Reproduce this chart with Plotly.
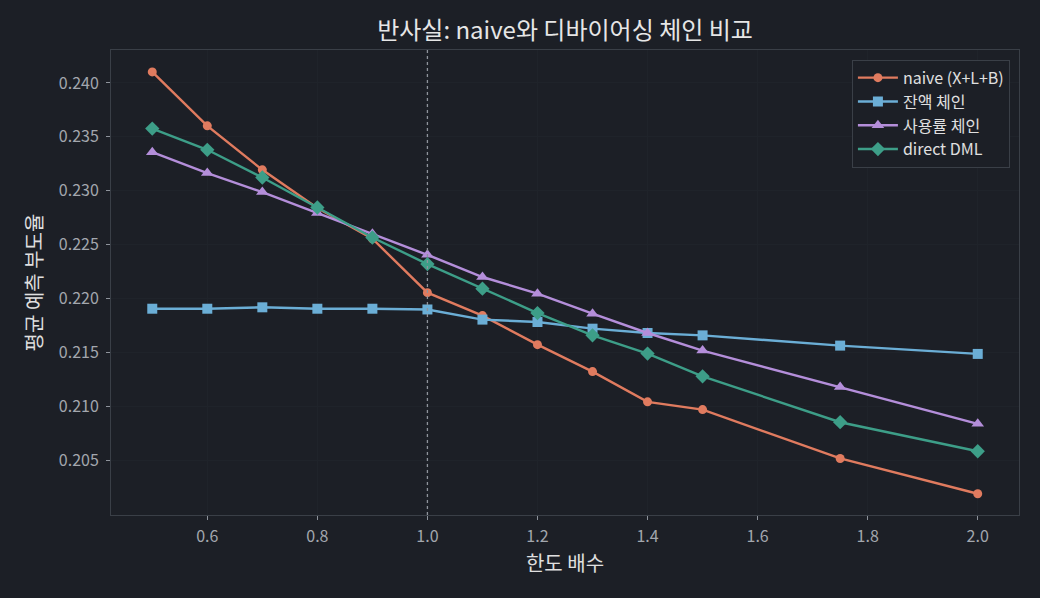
import plotly.graph_objects as go

x_vals = [0.5, 0.6, 0.7, 0.8, 0.9, 1.0, 1.1, 1.2, 1.3, 1.4, 1.5, 1.75, 2.0]
naive = [0.24102, 0.23602, 0.23194, 0.22840, 0.22556, 0.22056, 0.21843, 0.21574, 0.21324, 0.21044, 0.20972, 0.20519, 0.20192]
balance_chain = [0.21907, 0.21907, 0.21920, 0.21907, 0.21907, 0.21900, 0.21806, 0.21784, 0.21722, 0.21682, 0.21660, 0.21565, 0.21488]
usage_chain = [0.23358, 0.23164, 0.22988, 0.22794, 0.22602, 0.22407, 0.22201, 0.22046, 0.21861, 0.21682, 0.21519, 0.21182, 0.20840]
direct_dml = [0.23577, 0.23380, 0.23123, 0.22845, 0.22567, 0.22321, 0.22093, 0.21867, 0.21660, 0.21491, 0.21280, 0.20855, 0.20586]

series_names = ["naive (X+L+B)", "잔액 체인", "사용률 체인", "direct DML"]
series_values = [naive, balance_chain, usage_chain, direct_dml]
colors = ["#E07B5F", "#6BAED6", "#B48EDA", "#3D9E88"]
symbols = ["circle", "square", "triangle-up", "diamond"]
sizes = [9, 10, 11, 11]

x_ticks = [0.6, 0.8, 1.0, 1.2, 1.4, 1.6, 1.8, 2.0]
y_ticks = [0.205, 0.210, 0.215, 0.220, 0.225, 0.230, 0.235, 0.240]

bg = "#1C1F26"
font_family = "Noto Sans CJK KR, Noto Sans, sans-serif"

fig = go.Figure()
for name, vals, c, s, sz in zip(series_names, series_values, colors, symbols, sizes):
    fig.add_trace(go.Scatter(
        x=x_vals, y=vals, name=name, mode="lines+markers",
        line=dict(color=c, width=2.4),
        marker=dict(color=c, symbol=s, size=sz),
    ))

fig.add_vline(x=1.0, line=dict(color="#8E939B", width=1.3, dash="dot"))

fig.update_layout(
    width=1040, height=598,
    paper_bgcolor=bg, plot_bgcolor=bg,
    margin=dict(l=111, r=21, t=50, b=83),
    font=dict(family=font_family, color="#D8D8D8"),
    title=dict(text="반사실: naive와 디바이어싱 체인 비교", xref="paper", x=0.5, xanchor="center",
               y=1 - 31 / 598, yanchor="middle",
               font=dict(size=24, color="#E6E6E6", family=font_family)),
    legend=dict(x=0.990, y=0.979, xanchor="right", yanchor="top",
                bgcolor=bg, bordercolor="#3A3F47", borderwidth=1,
                font=dict(size=16, color="#E0E0E0"),
                itemwidth=40),
    showlegend=True,
)
fig.update_xaxes(
    range=[0.425, 2.075], tickvals=x_ticks, ticktext=[f"{t:.1f}" for t in x_ticks],
    showgrid=True, gridcolor="#1F232A", gridwidth=1, zeroline=False,
    showline=True, linecolor="#3A3F47", linewidth=1, mirror=True,
    ticks="outside", ticklen=4, tickcolor="#8E939B", ticklabelstandoff=3,
    tickfont=dict(size=16, color="#A3A7AE"),
    title=dict(text="한도 배수", font=dict(size=20, color="#E0E0E0"), standoff=10),
)
fig.update_yaxes(
    range=[0.19995, 0.24305], tickvals=y_ticks, ticktext=[f"{t:.3f}" for t in y_ticks],
    showgrid=True, gridcolor="#1F232A", gridwidth=1, zeroline=False,
    showline=True, linecolor="#3A3F47", linewidth=1, mirror=True,
    ticks="outside", ticklen=4, tickcolor="#8E939B", ticklabelstandoff=4,
    tickfont=dict(size=16, color="#A3A7AE"),
    title=dict(text="평균 예측 부도율", font=dict(size=20, color="#E0E0E0"), standoff=10),
)

fig.write_html("out.html")
